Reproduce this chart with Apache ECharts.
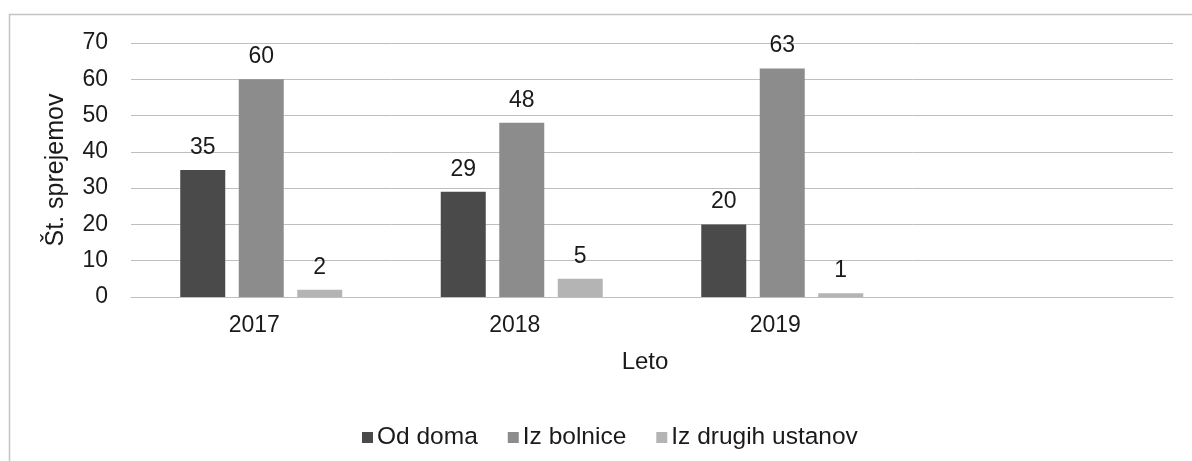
<!DOCTYPE html>
<html>
<head>
<meta charset="utf-8">
<script src="https://cdn.jsdelivr.net/npm/echarts@6/dist/echarts.min.js"></script>
<style>html,body{margin:0;padding:0;background:#fff}#c{width:1192px;height:461px}</style>
</head>
<body>
<div id="c"></div>
<script>
const categories = ['2017', '2018', '2019', ''];
const odDoma = [35, 29, 20];
const izBolnice = [60, 48, 63];
const izDrugihUstanov = [2, 5, 1];
const seriesNames = ['Od doma', 'Iz bolnice', 'Iz drugih ustanov'];
const yTicks = { min: 0, max: 70, interval: 10 };

const FONT = '"Liberation Sans", Arial, sans-serif';
const chart = echarts.init(document.getElementById('c'), null, { renderer: 'canvas' });
const labelStyle = { show: true, position: 'top', distance: 11, color: '#1a1a1a', fontSize: 23, fontFamily: FONT };
const colors = ['#4a4a4a', '#8c8c8c', '#b4b4b4'];
const datasets = [odDoma, izBolnice, izDrugihUstanov];

chart.setOption({
  animation: false,
  backgroundColor: '#fff',
  textStyle: { fontFamily: FONT },
  graphic: [{
    type: 'polyline',
    shape: { points: [[9.5, 461], [9.5, 14.5], [1192, 14.5]] },
    style: { stroke: '#c4c4c4', lineWidth: 1.5, fill: null },
    silent: true
  }],
  grid: { left: 131, right: 19, top: 43, bottom: 164, containLabel: false },
  legend: {
    data: seriesNames,
    left: 357,
    top: 420,
    icon: 'rect',
    itemWidth: 11,
    itemHeight: 11,
    itemGap: 30,
    textStyle: { fontSize: 24.5, color: '#1a1a1a', fontFamily: FONT, padding: [0, 0, 0, -1] }
  },
  xAxis: {
    type: 'category',
    data: categories,
    name: 'Leto',
    nameLocation: 'middle',
    nameGap: 53,
    nameTextStyle: { fontSize: 24, color: '#1a1a1a', fontFamily: FONT, padding: [0, 14, 0, 0] },
    axisLine: { show: true, lineStyle: { color: '#bfbfbf', width: 1 } },
    axisTick: { show: false },
    axisLabel: { margin: 17, fontSize: 23, color: '#1a1a1a', fontFamily: FONT, padding: [0, 14, 0, 0] }
  },
  yAxis: {
    type: 'value',
    min: yTicks.min,
    max: yTicks.max,
    interval: yTicks.interval,
    name: 'Št. sprejemov',
    nameLocation: 'middle',
    nameGap: 62,
    nameTextStyle: { fontSize: 25, color: '#1a1a1a', fontFamily: FONT },
    axisLine: { show: false },
    axisTick: { show: false },
    axisLabel: { margin: 23, fontSize: 23, color: '#1a1a1a', fontFamily: FONT },
    splitLine: { show: true, lineStyle: { color: '#bfbfbf', width: 1 } }
  },
  series: seriesNames.map((name, i) => ({
    name: name,
    type: 'bar',
    data: datasets[i],
    barWidth: 45,
    barGap: '30%',
    itemStyle: { color: colors[i] },
    label: labelStyle
  }))
});
</script>
</body>
</html>
